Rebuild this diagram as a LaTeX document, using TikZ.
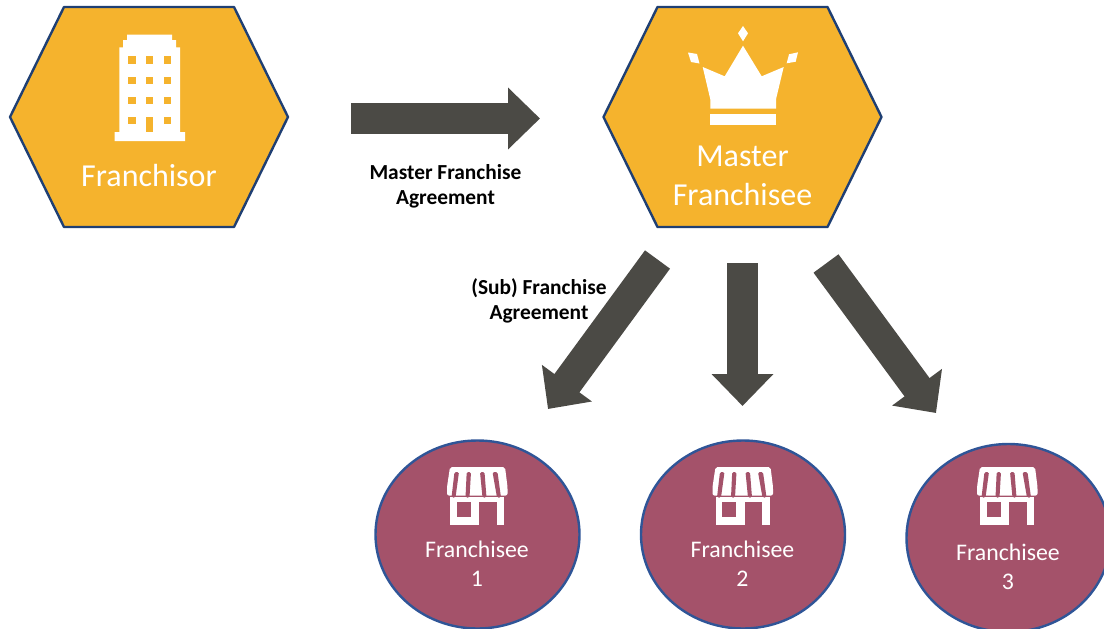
\documentclass[tikz,border=0pt]{standalone}
\usepackage{fontspec}
\setmainfont{Carlito}
\usetikzlibrary{arrows.meta,shapes.geometric}
\definecolor{hexfill}{HTML}{F5B32D}
\definecolor{hexline}{HTML}{1F3F73}
\definecolor{rosefill}{HTML}{A4526A}
\definecolor{roseline}{HTML}{2F5597}
\definecolor{arrowgray}{HTML}{4B4A45}
\tikzset{
    fatarrow/.style={line width=31pt,color=arrowgray,-{Triangle[length=32pt,width=60pt]}},
    rosecircle/.style={ellipse,draw=roseline,fill=rosefill,line width=2.4pt,minimum width=204pt,minimum height=188pt,inner sep=0pt},
    hextext/.style={text=white,font=\fontsize{32}{39}\selectfont,align=center},
    rosetext/.style={text=white,font=\fontsize{23.8}{29}\selectfont,align=center},
    agreetext/.style={text=black,font=\fontsize{21.4}{25}\selectfont\bfseries,align=center},
    hexa/.pic={
        \draw[draw=hexline,fill=hexfill,line width=2.4pt,line join=round]
            (-139,0)--(-85,-110)--(85,-110)--(139,0)--(85,110)--(-85,110)--cycle;
    },
    shopicon/.pic={
        \fill[white,rounded corners=2pt] (-27.5,0)--(27.5,0)--(30,20)--(30,28.5)--(-30.5,28.5)--(-30.5,20)--cycle;
        \fill[white] (-27.5,30) rectangle (26.5,58);
        \fill[rosefill,rounded corners=1.5pt] (-23,5)--(-18.5,5)--(-22,30.5)--(-26,30.5)--cycle;
        \fill[rosefill,rounded corners=1.5pt] (-10.8,5)--(-6.5,5)--(-8,30.5)--(-12,30.5)--cycle;
        \fill[rosefill,rounded corners=1.5pt] (2.5,5)--(7,5)--(9,30.5)--(5,30.5)--cycle;
        \fill[rosefill,rounded corners=1.5pt] (15,5)--(20,5)--(23.5,30.5)--(19.5,30.5)--cycle;
        \fill[rosefill] (-21,35) rectangle (-7,49.5);
        \fill[rosefill] (1.5,35) rectangle (19,58);
    },
}
\begin{document}
\begin{tikzpicture}[x=1pt,y=-1pt,line join=round]
    \clip (0,0) rectangle (1104,629);
    \pic at (149,117) {hexa};
    \pic at (742.5,117) {hexa};
    \node[hextext] (franchisor) at (149,176) {Franchisor};
    \node[hextext] (master) at (742.5,175.5) {Master\\Franchisee};
    % building
    \fill[white] (114.5,132)--(119.3,132)--(119.3,47.3)--(123,47.3)--(123,40)--(127,40)--(127,34.7)
        --(172,34.7)--(172,40)--(176,40)--(176,47.3)--(180,47.3)--(180,132)--(185,132)--(185,141)--(114.5,141)--cycle;
    \foreach \xw in {128,145.8,163.5}
        \foreach \yw in {56.3,76.5,96.7,117}
            \fill[hexfill] (\xw,\yw) rectangle ++(7.5,7.4);
    \fill[hexfill] (145.8,117) rectangle (153.3,132);
    % crown
    \fill[white] (743,26)--(748,33.3)--(743,41.3)--(738,33.3)--cycle;
    \fill[white] (688,52.5)--(697,54)--(699.5,63.5)--(691,62)--cycle;
    \fill[white] (798,52.3)--(789,54.3)--(786.7,63.3)--(795.7,61.7)--cycle;
    \fill[white] (702.7,67)--(724.7,76.3)--(743,45.7)--(761.7,76.3)--(783.7,67)--(776,99.3)--(776,108.7)
        --(710.3,108.7)--(710.3,99.3)--cycle;
    \fill[white] (710,114) rectangle (776,125);
    % franchisees
    \node[rosecircle] (fr1) at (477.5,534.5) {};
    \node[rosecircle] (fr2) at (743,534.5) {};
    \node[rosecircle] (fr3) at (1008.5,538) {};
    \pic at (477.5,467) {shopicon};
    \pic at (743,467) {shopicon};
    \pic at (1007.5,467) {shopicon};
    \node[rosetext] (fr1text) at (477,564) {Franchisee\\1};
    \node[rosetext] (fr2text) at (742.5,564) {Franchisee\\2};
    \node[rosetext] (fr3text) at (1008,566.5) {Franchisee\\3};
    % arrows
    \coordinate (ma) at (351,118.5);
    \coordinate (mb) at (540,118.5);
    \coordinate (s1) at (657.5,259.5);
    \coordinate (e1) at (548,409);
    \coordinate (s2) at (742.5,263);
    \coordinate (e2) at (742.5,406);
    \coordinate (s3) at (826,263.5);
    \coordinate (e3) at (936,413);
    \draw[fatarrow] (ma)--(mb);
    \draw[fatarrow] (s1)--(e1);
    \draw[fatarrow] (s2)--(e2);
    \draw[fatarrow] (s3)--(e3);
    \node[agreetext] (mfa) at (445.5,186) {Master Franchise\\Agreement};
    \node[agreetext] (sfa) at (539,300.5) {(Sub) Franchise\\Agreement};
\end{tikzpicture}
\end{document}
